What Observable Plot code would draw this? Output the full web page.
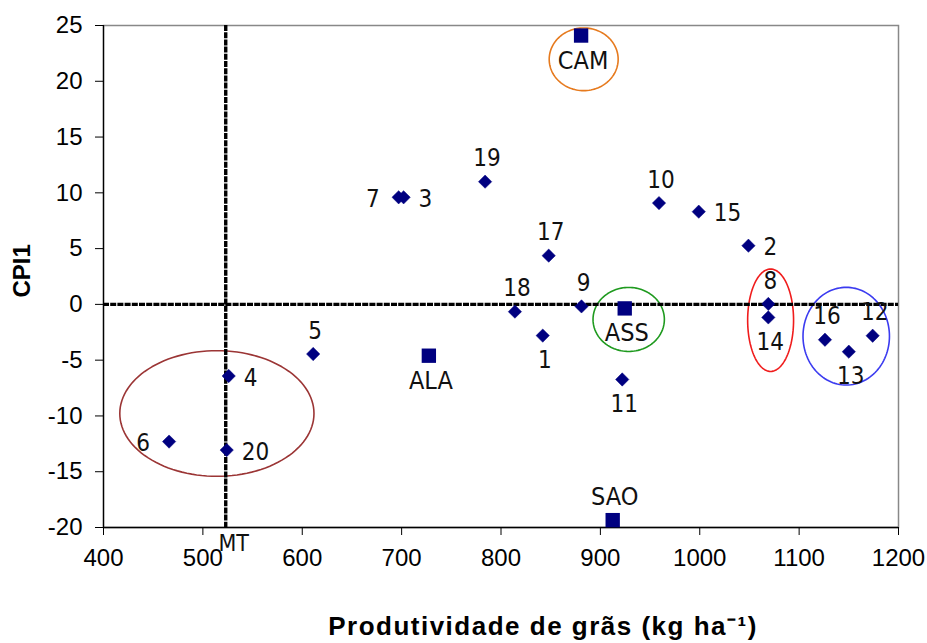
<!DOCTYPE html>
<html><head><meta charset="utf-8">
<script src="https://cdn.jsdelivr.net/npm/d3@7"></script>
<script src="https://cdn.jsdelivr.net/npm/@observablehq/plot@0.6"></script>
<style>body{margin:0;background:#fff} svg{display:block;background:#fff}</style>
</head><body><div id="chart"></div>
<script>
// Genotypes (diamonds)
const genotypes = ["1","2","3","4","5","6","7","8","9","10","11","12","13","14","15","16","17","18","19","20"];
const genoX = [842, 1049, 702, 526, 611, 466, 697, 1069, 881, 959, 922, 1174, 1150, 1069, 999, 1126, 848, 814, 784, 524];
const genoY = [-2.8, 5.26, 9.6, -6.42, -4.45, -12.3, 9.6, 0.04, -0.18, 9.08, -6.73, -2.81, -4.24, -1.17, 8.31, -3.17, 4.37, -0.65, 11.0, -13.06];
const genoLabelSide = ["bottom","right","right","right","top","left","left","top","top","top","bottom","top","bottom","bottom","right","top","top","top","top","right"];

// Environments (squares)
const locations = ["CAM","ASS","ALA","SAO"];
const locX = [880.6, 924.5, 727.4, 912.4];
const locY = [24.1, -0.36, -4.6, -19.34];
const locLabelSide = ["bottom","bottom","bottom","top"];

// Reference lines
const mtLabel = "MT";
const mtX = 523;
const zeroY = 0;

// Group ellipses (data units)
const groupNames = ["g1","g2","g3","g4","g5"];
const groupCX = [514.1, 883.2, 928.5, 1071.3, 1147.4];
const groupCY = [-9.78, 21.97, -1.35, -1.42, -2.85];
const groupRX = [97.7, 34.7, 35.9, 23.1, 43.5];
const groupRY = [5.63, 2.81, 2.87, 4.59, 4.38];

const xTicks = [400, 500, 600, 700, 800, 900, 1000, 1100, 1200];
const yTicks = [-20, -15, -10, -5, 0, 5, 10, 15, 20, 25];
const xTitle = "Produtividade de grãs (kg ha⁻¹)";
const yTitle = "CPI1";

// ----- build tables -----
const geno = genotypes.map((g, i) => ({label: g, x: genoX[i], y: genoY[i], side: genoLabelSide[i]}));
const locs = locations.map((l, i) => ({label: l, x: locX[i], y: locY[i], side: locLabelSide[i]}));
const groupColors = {g1: "#9b3535", g2: "#e67a1e", g3: "#1f9a1f", g4: "#f01c1c", g5: "#3b3bf0"};
const ellipsePts = [];
groupNames.forEach((g, i) => {
  for (let a = 0; a <= 360; a += 3) {
    const t = a * Math.PI / 180;
    ellipsePts.push({g, x: groupCX[i] + groupRX[i] * Math.cos(t), y: groupCY[i] + groupRY[i] * Math.sin(t)});
  }
});

const navy = "#000080";
const labelFont = "'Liberation Sans Narrow', 'Arial Narrow', 'DejaVu Sans Condensed', sans-serif";
const labelSize = 24;
const sideOpts = {
  top:    {dx: 2, dy: -23, textAnchor: "middle"},
  bottom: {dx: 2, dy: 25, textAnchor: "middle"},
  left:   {dx: -19, dy: 2, textAnchor: "end"},
  right:  {dx: 15, dy: 2, textAnchor: "start"}
};
const labelMarks = [];
for (const side of Object.keys(sideOpts)) {
  labelMarks.push(Plot.text(geno.filter(d => d.side === side), {
    x: "x", y: "y", text: "label", ...sideOpts[side], lineAnchor: "middle",
    fontSize: labelSize, fontFamily: labelFont, fill: "#111"
  }));
  labelMarks.push(Plot.text(locs.filter(d => d.side === side), {
    x: "x", y: "y", text: "label", ...sideOpts[side], lineAnchor: "middle",
    fontSize: labelSize + 1, fontFamily: labelFont, fill: "#111"
  }));
}

const chart = Plot.plot({
  width: 927, height: 643,
  marginLeft: 103, marginRight: 29, marginTop: 25, marginBottom: 116,
  style: {fontFamily: "'Liberation Sans', Arial, sans-serif", fontSize: "24px", background: "#fff", color: "#000"},
  x: {domain: [400, 1200]},
  y: {domain: [-20, 25]},
  marks: [
    Plot.frame({stroke: "#888", strokeWidth: 1.5}),
    Plot.line(ellipsePts, {x: "x", y: "y", z: "g", stroke: d => groupColors[d.g], strokeWidth: 1.6, curve: "linear"}),
    Plot.ruleX([mtX], {stroke: "#000", strokeWidth: 3.4, strokeDasharray: "6,1.2"}),
    Plot.ruleY([zeroY], {stroke: "#000", strokeWidth: 3.4, strokeDasharray: "6,1.2"}),
    Plot.ruleX([400], {stroke: "#000", strokeWidth: 1.3}),
    Plot.ruleY([-20], {stroke: "#000", strokeWidth: 1.3}),
    Plot.axisX(xTicks, {tickSize: 8, tickPadding: 13, fontSize: 24, label: null, tickFormat: d => String(d), className: "tickx"}),
    Plot.axisY(yTicks, {tickSize: 8, tickPadding: 13, fontSize: 24, label: null, tickFormat: d => String(d), className: "ticky"}),
    Plot.dot(geno, {x: "x", y: "y", symbol: "diamond2", r: 6, fill: navy, stroke: navy, strokeWidth: 0.5}),
    Plot.dot(locs, {x: "x", y: "y", symbol: "square", r: 8.1, fill: navy}),
    ...labelMarks,
    Plot.text([mtLabel], {x: () => mtX, frameAnchor: "bottom", text: d => d, dx: 8, dy: 16, lineAnchor: "middle",
      fontSize: 23, fontFamily: labelFont, fill: "#111"}),
    Plot.text([yTitle], {frameAnchor: "left", text: d => d, rotate: -90, dx: -81, dy: 21, lineAnchor: "middle",
      fontSize: 24, fontWeight: "bold"}),
    Plot.text([xTitle], {frameAnchor: "bottom", text: d => d, dx: 42, dy: 99, lineAnchor: "middle",
      fontSize: 26, fontWeight: "bold", className: "xtitle"})
  ]
});
d3.select(chart).selectAll(".xtitle text").attr("letter-spacing", "1.5px");
d3.select(chart).selectAll(".tickx, .ticky").attr("font-size", 24).selectAll("text").attr("font-size", 24);
document.getElementById("chart").appendChild(chart);
</script>
</body></html>
